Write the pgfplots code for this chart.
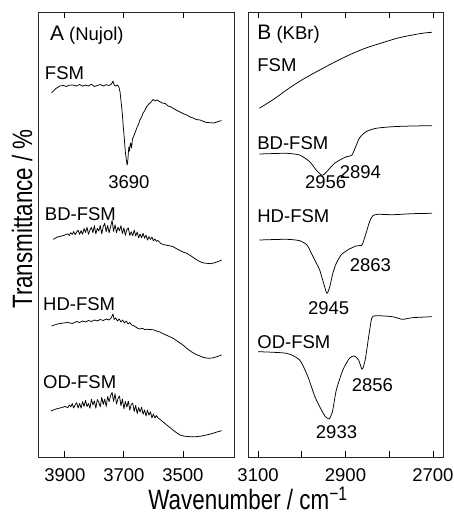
\documentclass[border=0pt]{standalone}
\usepackage{fontspec}
\setmainfont{Liberation Sans}
\usepackage{graphicx}
\usepackage{pgfplots}
\pgfplotsset{compat=1.18}
\tikzset{lab/.style={font=\fontsize{18.5}{20}\selectfont, inner sep=0pt}}
\begin{document}
\begin{tikzpicture}
\useasboundingbox (0pt,0pt) rectangle (453pt,517pt);
\pgfplotsset{
  panel/.style={scale only axis, height=445pt, ymin=60, ymax=505, x dir=reverse,
    ytick=\empty, axis line style={line width=0.9pt, black!85},
    major tick length=6pt, tick style={line width=0.8pt, black},
    xticklabel style={font=\fontsize{18.5}{20}\selectfont, inner sep=0pt, yshift=-11pt},
    no markers, cycle list={{black}},
    every axis plot/.append style={black, line width=0.75pt, line join=round}}
}
% ---------------- Panel A ----------------
\begin{axis}[panel, at={(38pt,60pt)}, anchor=south west, width=196pt,
  xmin=3327, xmax=3991, xtick={3900,3700,3500}, xticklabels={3900,3700,3500}]
% FSM
\addplot coordinates {
(3945,424.3)(3930,428.5)(3917,431)(3905,431.5)(3895,430.5)(3885,431.8)(3872,432)
(3860,431)(3850,432.5)(3840,430.8)(3830,432)(3820,431)(3810,432.8)(3800,430.5)
(3790,431.5)(3780,432.5)(3770,431)(3760,432.3)(3750,431.5)(3742,433)(3737,436)
(3733,432)(3728,431)(3722,432)(3717,430)(3713,425)(3709,414)(3705,402)(3702,390)
(3699,380)(3697,372)(3695,365)(3693,360)(3691,356)(3689,352)(3687,355)(3685,364)
(3683,370)(3681,366)(3679,372)(3677,374)(3674,369)(3671,378)(3668,380)(3665,382)
(3660,386)(3655,390)(3650,393)(3646,397)(3640,400)(3635,404)(3630,406)(3623,410.3)
(3615,413)(3608,415)(3601,417.5)(3595,416)(3588,417)(3578,415.3)(3570,414)
(3560,413.5)(3550,411)(3540,410)(3533,408.7)(3520,406.5)(3510,405)(3500,403.5)
(3487,402)(3475,400)(3465,399)(3455,397.5)(3442,397)(3430,395.5)(3420,394.5)
(3408,394.3)(3395,394)(3385,395)(3375,396)(3369,396.3)};
% BD-FSM
\addplot coordinates {
(3940,277.7)(3925,280)(3910,281)(3900,282)
(3890,283.2)(3885,281.5)(3880,284.3)(3875,282.6)(3870,285.4)(3865,282.2)(3860,285)
(3855,286.8)(3850,282.6)(3845,286.4)(3840,282.7)(3835,288.4)(3830,284.5)(3825,289.7)
(3820,282.8)(3815,287)(3810,289.6)(3805,284.3)(3800,291.4)(3795,283.1)(3790,288.7)
(3785,285.9)(3780,291.5)(3775,283.2)(3770,290.4)(3765,293.6)(3760,285.3)(3755,291.5)
(3750,284.2)(3745,290.4)(3740,296.6)(3735,285.6)(3730,292.3)(3725,284.4)(3720,290)
(3715,286.2)(3710,291.3)(3705,283.4)(3700,289.1)(3695,281.7)(3690,287.3)(3685,289)
(3680,281.6)(3675,285.2)(3670,281.3)(3665,286.9)(3660,281)(3655,285)(3650,279.1)
(3645,283.1)(3640,279.2)(3635,283.7)(3630,278.8)(3625,281.8)(3620,276.9)(3615,280.4)
(3610,277.5)(3605,280)(3600,276.1)(3595,278.1)(3590,275.6)(3585,276.5)
(3575,273.5)(3565,272.3)(3550,271.5)(3533,270.3)(3520,268)(3510,266.5)(3500,265)
(3487,263.7)(3470,260.5)(3455,257.5)(3442,255.3)(3430,254)(3420,253.7)(3405,253.3)
(3390,254.5)(3380,255.5)(3369,257)};
% HD-FSM
\addplot coordinates {
(3945,191)(3925,193)(3905,194)(3890,194.5)(3875,193.5)(3860,195.5)(3850,194.5)
(3840,196)(3830,195)(3820,196.5)(3810,195.5)(3800,197)(3790,196)(3780,197.5)
(3770,196.5)(3760,198)(3750,197)(3743,199)(3737,203)(3733,197.5)(3728,199)
(3722,196)(3716,198)(3710,195)(3704,197)(3698,194)(3692,196)(3686,193)(3680,194.5)
(3674,192)(3668,191.5)(3660,190)(3652,188.5)(3645,188)(3638,188.8)(3630,187.5)
(3623,187.7)(3610,187.5)(3600,187.2)(3590,186)(3578,185)(3565,183)(3550,181)
(3533,178.7)(3515,175)(3500,172)(3487,168.7)(3470,165)(3455,162.5)(3442,161)
(3430,159.5)(3414,158.7)(3400,159)(3385,160.3)(3369,162)};
% OD-FSM
\addplot coordinates {
(3948,106)(3930,108)(3910,109.5)(3900,110.5)
(3890,109.4)(3885,112.1)(3880,110.2)(3875,113.4)(3870,109)(3865,112.2)(3860,114.3)
(3855,109)(3850,113.6)(3845,108.8)(3840,115.4)(3835,110.5)(3830,116.7)(3825,110.4)
(3820,113.5)(3815,108.7)(3810,117.8)(3805,112)(3800,116.1)(3795,108.8)(3790,117.4)
(3785,114.6)(3780,110.3)(3775,119.7)(3770,112.6)(3765,118)(3760,110.5)(3755,120.5)
(3750,115.3)(3745,121.5)(3740,124.5)(3735,115.5)(3730,123.2)(3725,112.9)(3720,118.5)
(3715,121.1)(3710,111.3)(3705,118)(3700,108.2)(3695,115.5)(3690,109.9)(3685,115.8)
(3680,106.8)(3675,112.7)(3670,113.7)(3665,105.6)(3660,111.6)(3655,103.5)(3650,109.4)
(3645,104.9)(3640,109.8)(3635,102.7)(3630,107.1)(3625,101)(3620,106.9)(3615,101.8)
(3610,105.2)(3605,99.1)(3600,103)(3595,99)(3590,101.4)(3585,99.3)
(3575,97)(3565,94.5)(3555,92)(3540,88.5)(3525,85)
(3510,82)(3495,80.8)(3476,80.3)(3460,80.2)(3440,80.8)(3420,82)(3400,83.5)
(3385,85)(3369,86.3)};
\node[lab, anchor=west] at (axis cs:3951,482) {{\fontsize{21}{22}\selectfont A} {(Nujol)}};
\node[lab, anchor=west] at (axis cs:3968,444) {FSM};
\node[lab] at (axis cs:3683,335) {3690};
\node[lab, anchor=west] at (axis cs:3968,303) {BD-FSM};
\node[lab, anchor=west] at (axis cs:3974,213) {HD-FSM};
\node[lab, anchor=west] at (axis cs:3974,135) {OD-FSM};
\end{axis}
% ---------------- Panel B ----------------
\begin{axis}[panel, at={(248pt,60pt)}, anchor=south west, width=195pt,
  xmin=2677, xmax=3123, xtick={3100,3000,2900,2800,2700},
  xticklabels={3100,,2900,,2700}]
% FSM
\addplot+[smooth] coordinates {
(3097,408.7)(3060,419)(3035,427)(3000,437)(2959,447)(2920,456)(2883,463.7)
(2850,469.5)(2808,475.3)(2780,479)(2747,482)(2720,484)(2702,484.7)};
% BD-FSM
\addplot+[smooth, tension=0.4] coordinates {
(3097,363)(3060,363.5)(3035,363.7)(3005,362)(2982,355.3)(2967,347)(2955,342)
(2948,343)(2936,348.7)(2925,353.7)(2910,357.7)(2898,360.3)(2891,360.8)(2885,362)
(2876,371)(2868,379)(2853,385.3)(2830,388.7)(2792,390.3)(2747,391)(2702,391.3)};
% HD-FSM
\addplot+[smooth, tension=0.4] coordinates {
(3097,277)(3035,277.7)(3005,276.3)(2988,272)(2978,263.7)(2968,255)(2959,247)
(2950,233.7)(2942.5,223.7)(2936,230.3)(2929,243.7)(2921,253.7)(2910,262)(2895,267)
(2876,271)(2864,271.5)(2861,273)(2853,283.7)(2845,295.3)(2838,301)(2827,302.7)
(2792,302.3)(2747,303.3)(2702,303.7)};
% OD-FSM
\addplot+[smooth, tension=0.4] coordinates {
(3100,165.3)(3035,163.7)(3005,157)(2986,140.3)(2970,120.3)(2955,107)(2947,101)
(2938,98)(2930,105)(2921,127)(2906,147)(2891,158.7)(2880,161)(2870,157)
(2862,147.7)(2855,157)(2847,180.3)(2840,198.7)(2831,201.3)(2793,200.3)(2770,197.7)
(2747,199.3)(2702,200.3)};
\node[lab, anchor=west] at (axis cs:3102,483) {{\fontsize{21}{22}\selectfont B} {(KBr)}};
\node[lab, anchor=west] at (axis cs:3102,452) {FSM};
\node[lab, anchor=west] at (axis cs:3102,374) {BD-FSM};
\node[lab] at (axis cs:2866,345) {2894};
\node[lab] at (axis cs:2945.5,335) {2956};
\node[lab, anchor=west] at (axis cs:3102,301) {HD-FSM};
\node[lab] at (axis cs:2843,252) {2863};
\node[lab] at (axis cs:2938.6,209) {2945};
\node[lab, anchor=west] at (axis cs:3102,175) {OD-FSM};
\node[lab] at (axis cs:2838.6,132) {2856};
\node[lab] at (axis cs:2920.5,85) {2933};
\end{axis}
\node[rotate=90, inner sep=0pt] at (22pt,298pt) {\scalebox{0.8}[1]{\fontsize{28}{30}\selectfont Transmittance / \%}};
\node[inner sep=0pt] at (248pt,19pt) {\scalebox{0.8}[1]{\fontsize{28}{30}\selectfont Wavenumber / cm\textsuperscript{−1}}};
\end{tikzpicture}
\end{document}
